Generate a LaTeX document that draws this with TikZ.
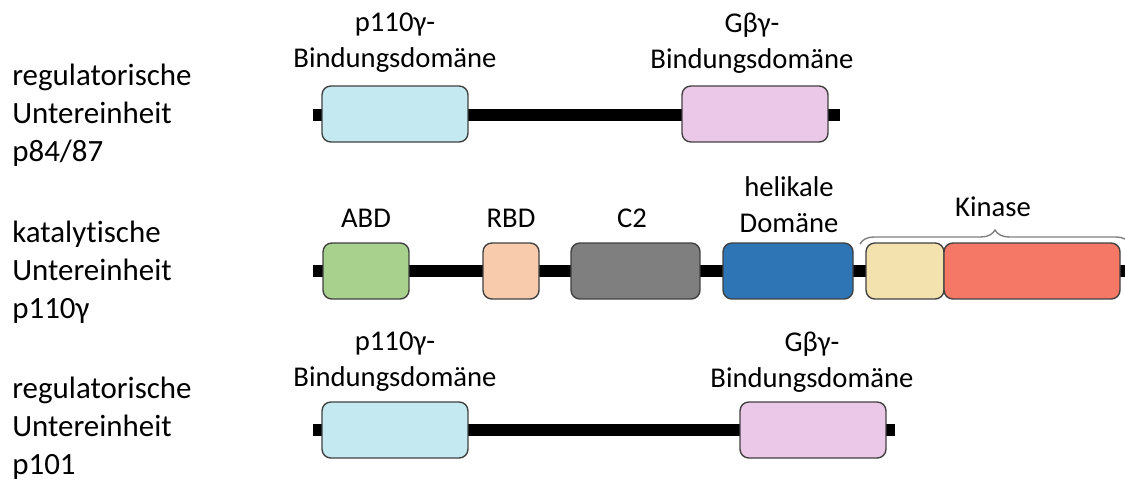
\documentclass[tikz,border=0pt]{standalone}
\usepackage{fontspec}
\setmainfont[Ligatures=NoCommon]{Carlito}
\usetikzlibrary{decorations.pathreplacing}

\definecolor{bindblue}{HTML}{C4E9F1}
\definecolor{bindpink}{HTML}{ECC8E8}
\definecolor{abdgreen}{HTML}{A9D18E}
\definecolor{rbdpeach}{HTML}{F8CBAD}
\definecolor{ctwogray}{HTML}{7F7F7F}
\definecolor{helblue}{HTML}{2E75B6}
\definecolor{kinyellow}{HTML}{F3E1AE}
\definecolor{kinred}{HTML}{F47865}

\begin{document}
\begin{tikzpicture}[
    x=0.02cm,y=-0.02cm,
    dombox/.style={draw=black!75,line width=0.8pt,rounded corners=5pt,
                   minimum height=1.12cm,inner sep=0pt},
    chain/.style={line width=6.8pt,draw=black},
    lab/.style={align=center,inner sep=0pt,
                font=\fontsize{16.3}{20.5}\selectfont},
    sub/.style={align=left,inner sep=0pt,anchor=west,
                font=\fontsize{17.6}{21.7}\selectfont}
  ]
    \useasboundingbox (0,0) rectangle (1125,480);

    % subunit names
    \node[sub] (name1) at (12,115) {regulatorische\\Untereinheit\\p84/87};
    \node[sub] (name2) at (12,272) {katalytische\\Untereinheit\\p110γ};
    \node[sub] (name3) at (12,428) {regulatorische\\Untereinheit\\p101};

    % backbones
    \coordinate (r1a) at (313,115);
    \coordinate (r1b) at (840,115);
    \coordinate (r2a) at (313,271);
    \coordinate (r2b) at (1125,271);
    \coordinate (r3a) at (313,430);
    \coordinate (r3b) at (895,430);
    \draw[chain] (r1a) -- (r1b);
    \draw[chain] (r2a) -- (r2b);
    \draw[chain] (r3a) -- (r3b);

    % p84/87
    \node[dombox,fill=bindblue,minimum width=2.92cm] (r1p) at (395,114) {};
    \node[dombox,fill=bindpink,minimum width=2.92cm] (r1g) at (755,114) {};
    \node[lab] (r1plab) at (395,43) {p110γ-\\Bindungsdomäne};
    \node[lab] (r1glab) at (752,43) {Gβγ-\\Bindungsdomäne};

    % p110gamma
    \node[dombox,fill=abdgreen,minimum width=1.72cm] (abd) at (366,271) {};
    \node[dombox,fill=rbdpeach,minimum width=1.12cm] (rbd) at (511,271) {};
    \node[dombox,fill=ctwogray,minimum width=2.58cm] (ctwo) at (635.5,271) {};
    \node[dombox,fill=helblue,minimum width=2.6cm] (hel) at (788,271) {};
    \node[dombox,fill=kinyellow,minimum width=1.56cm] (kin1) at (905,271) {};
    \node[dombox,fill=kinred,minimum width=3.52cm] (kin2) at (1032,271) {};
    \node[lab] (abdlab) at (366,218) {ABD};
    \node[lab] (rbdlab) at (511,218) {RBD};
    \node[lab] (ctwolab) at (632,218) {C2};
    \node[lab] (hellab) at (789,205) {helikale\\Domäne};
    \node[lab] (kinlab) at (993,207) {Kinase};
    \coordinate (kinl) at (860,244);
    \coordinate (kinr) at (1130,244);
    \draw[black!50,line width=0.8pt,
          decorate,decoration={brace,amplitude=8pt}] (kinl) -- (kinr);

    % p101
    \node[dombox,fill=bindblue,minimum width=2.92cm] (r3p) at (395,430) {};
    \node[dombox,fill=bindpink,minimum width=2.92cm] (r3g) at (813,430) {};
    \node[lab] (r3plab) at (395,362) {p110γ-\\Bindungsdomäne};
    \node[lab] (r3glab) at (812,362) {Gβγ-\\Bindungsdomäne};
  \end{tikzpicture}
\end{document}
